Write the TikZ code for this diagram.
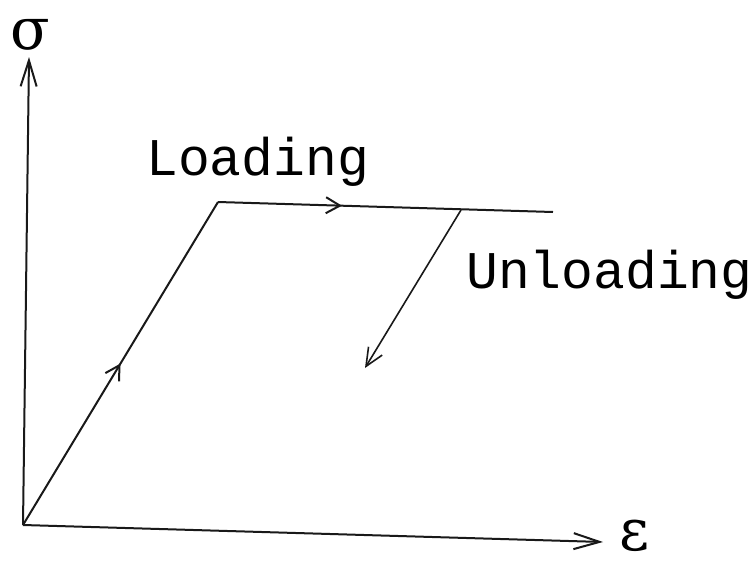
\documentclass[tikz,border=0pt]{standalone}
\usepackage{fontspec}
\setmonofont{Liberation Mono}
\newfontfamily\grk{DejaVu Serif}
\usetikzlibrary{arrows.meta,decorations.markings}
\begin{document}
\begin{tikzpicture}[x=1pt,y=-1pt,
  ln/.style={line width=2pt, black!90},
  axisarrow/.style={-{Straight Barb[length=26pt,width=16pt,line width=2pt]}},
  midarrow/.style={postaction=decorate, decoration={markings,
      mark=at position #1 with {\arrow{Straight Barb[length=14pt,width=16pt,line width=2pt]}}}},
  endarrow/.style={-{Straight Barb[length=18pt,width=16pt,line width=1.6pt]}},
  lbl/.style={font=\fontsize{53}{60}\selectfont\ttfamily, inner sep=0pt, anchor=base west},
  sym/.style={inner sep=0pt, anchor=base},
]
\useasboundingbox (0,0) rectangle (756,563);
\coordinate (O) at (23,525);
\coordinate (Ytip) at (29,57);
\coordinate (Xtip) at (603,542);
\coordinate (C) at (218,202);
\coordinate (E) at (553,212);
\coordinate (U1) at (461,210);
\coordinate (U2) at (365,368);

\draw[ln, axisarrow] (O) -- (Ytip);
\draw[ln, axisarrow] (O) -- (Xtip);
\draw[ln, midarrow=0.5] (O) -- (C);
\draw[ln, midarrow=0.37] (C) -- (E);
\draw[ln, line width=1.6pt, endarrow] (U1) -- (U2);

\node[sym, font=\fontsize{58}{60}\selectfont\grk] (sigma) at (30,49) {σ};
\node[sym, font=\fontsize{58}{60}\selectfont\grk] (eps) at (635,550) {ε};
\node[lbl] (load) at (146,175) {Loading};
\node[lbl] (unload) at (466,288) {Unloading};
\end{tikzpicture}
\end{document}
